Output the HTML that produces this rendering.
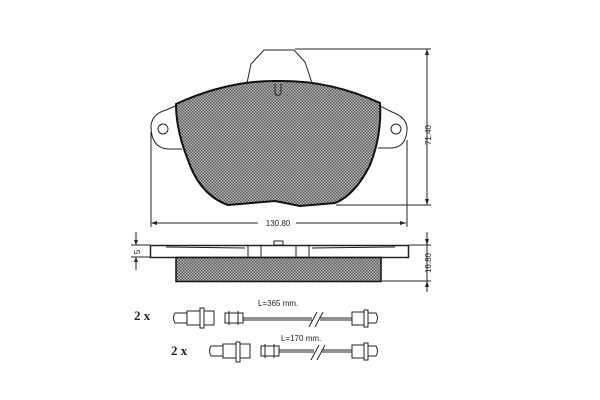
<!DOCTYPE html>
<html><head><style>body{margin:0;background:#fff}svg{display:block}</style></head><body>
<svg width="600" height="400" viewBox="0 0 600 400" xmlns="http://www.w3.org/2000/svg">
<defs>
<pattern id="hp" width="3" height="3" patternUnits="userSpaceOnUse">
<rect width="3" height="3" fill="#bbb"/><rect width="1.5" height="1.5" fill="#555"/><rect x="1.5" y="1.5" width="1.5" height="1.5" fill="#555"/>
</pattern>
</defs>
<g fill="none" stroke="#222" stroke-width="1">
<!-- tab -->
<path d="M247,83 L251,64 L264,50 L294,50 L305,62 L312,83"/>
<!-- ears -->
<path d="M180,104 L166,110 Q152,114 151,126 Q151,148 168,149 L182,149"/>
<path d="M376,104 L392,112 Q408,118 407,130 Q406,147 392,148 L378,148"/>
<circle cx="163" cy="129" r="5"/><circle cx="396" cy="129" r="5"/>
</g>
<!-- pad -->
<path d="M176,104 Q228,80 278,81 Q330,80 380,103 Q382,135 370,165 Q355,195 335,203 L300,206 L275,201 L228,205 Q200,195 188,160 Q176,130 176,104 Z" fill="url(#hp)" stroke="#111" stroke-width="2"/>
<path d="M275,84 L275,93 Q278,98 281,93 L281,84" fill="none" stroke="#222"/>
<g stroke="#222" stroke-width="1" fill="none">
<!-- dimensions -->
<line x1="295" y1="49" x2="431" y2="49"/>
<line x1="336" y1="205" x2="431" y2="205"/>
<line x1="427" y1="49" x2="427" y2="205"/>
<line x1="151" y1="132" x2="151" y2="227"/>
<line x1="407" y1="140" x2="407" y2="227"/>
<line x1="152" y1="223" x2="258" y2="223"/>
<line x1="296" y1="223" x2="406" y2="223"/>
<!-- side view -->
<rect x="150.5" y="245.5" width="258" height="12" stroke-width="1.5"/>
<line x1="248" y1="246" x2="248" y2="257"/><line x1="261" y1="246" x2="261" y2="257"/>
<line x1="296" y1="246" x2="296" y2="257"/><line x1="309" y1="246" x2="309" y2="257"/>
<path d="M166,247 L245,248 M312,248 L395,247"/>
<rect x="274" y="241" width="9" height="4"/>
<line x1="136" y1="232" x2="136" y2="245"/><line x1="136" y1="257" x2="136" y2="270"/>
<line x1="131" y1="245" x2="150" y2="245"/><line x1="131" y1="257" x2="150" y2="257"/>
<line x1="427" y1="232" x2="427" y2="292"/>
<line x1="409" y1="245" x2="431" y2="245"/><line x1="382" y1="281" x2="431" y2="281"/>
</g>
<rect x="176" y="257.5" width="205" height="24" fill="url(#hp)" stroke="#111" stroke-width="1.5"/>
<g fill="#222">
<path d="M151,223 l6,-2 v4z M406,223 l-6,-2 v4z M427,49 l-2,6 h4z M427,205 l-2,-6 h4z M427,245 l-2,-6 h4z M427,281 l-2,6 h4z M136,245 l-2,-5 h4z M136,257 l-2,5 h4z"/>
</g>
<g font-family="Liberation Sans, sans-serif" font-size="8" fill="#222">
<text x="278" y="226" text-anchor="middle">130.80</text>
<text transform="translate(431,135) rotate(-90)" text-anchor="middle">71.40</text>
<text transform="translate(431,263) rotate(-90)" text-anchor="middle">16.80</text>
<text transform="translate(140,252) rotate(-90)" text-anchor="middle">5</text>
<text x="258" y="306">L=365 mm.</text>
<text x="281" y="341">L=170 mm.</text>
</g>
<g font-family="Liberation Serif, serif" font-size="13" font-weight="bold" fill="#222">
<text x="134" y="320">2 x</text><text x="171" y="355">2 x</text>
</g>
<g fill="none" stroke="#222" stroke-width="1">
<!-- wire 1 -->
<path d="M175,313 h12 v10 h-12 q-3,-5 0,-10z"/>
<rect x="187" y="311" width="13" height="14"/><rect x="200" y="308" width="4" height="20"/>
<rect x="204" y="311" width="10" height="14"/>
<path d="M225,313 h18 v10 h-18z M229,311 v14 M238,311 v14"/>
<line x1="243" y1="318" x2="312" y2="318"/><line x1="243" y1="320" x2="312" y2="320"/>
<line x1="320" y1="318" x2="352" y2="318"/><line x1="320" y1="320" x2="352" y2="320"/>
<path d="M309,327 L317,312 M315,327 L323,312"/>
<rect x="352" y="312" width="12" height="13"/><rect x="364" y="310" width="4" height="17"/>
<path d="M368,313 h8 q3,5 0,10 h-8"/>
<!-- wire 2 -->
<path d="M211,346 h12 v10 h-12 q-3,-5 0,-10z"/>
<rect x="223" y="344" width="13" height="14"/><rect x="236" y="342" width="4" height="20"/>
<rect x="240" y="344" width="10" height="14"/>
<path d="M261,346 h18 v10 h-18z M265,344 v14 M274,344 v14"/>
<line x1="279" y1="350" x2="314" y2="350"/><line x1="279" y1="352" x2="314" y2="352"/>
<line x1="322" y1="350" x2="352" y2="350"/><line x1="322" y1="352" x2="352" y2="352"/>
<path d="M311,360 L319,345 M317,360 L325,345"/>
<rect x="352" y="345" width="12" height="13"/><rect x="364" y="343" width="4" height="17"/>
<path d="M368,346 h8 q3,5 0,10 h-8"/>
</g>
</svg>
</body></html>
